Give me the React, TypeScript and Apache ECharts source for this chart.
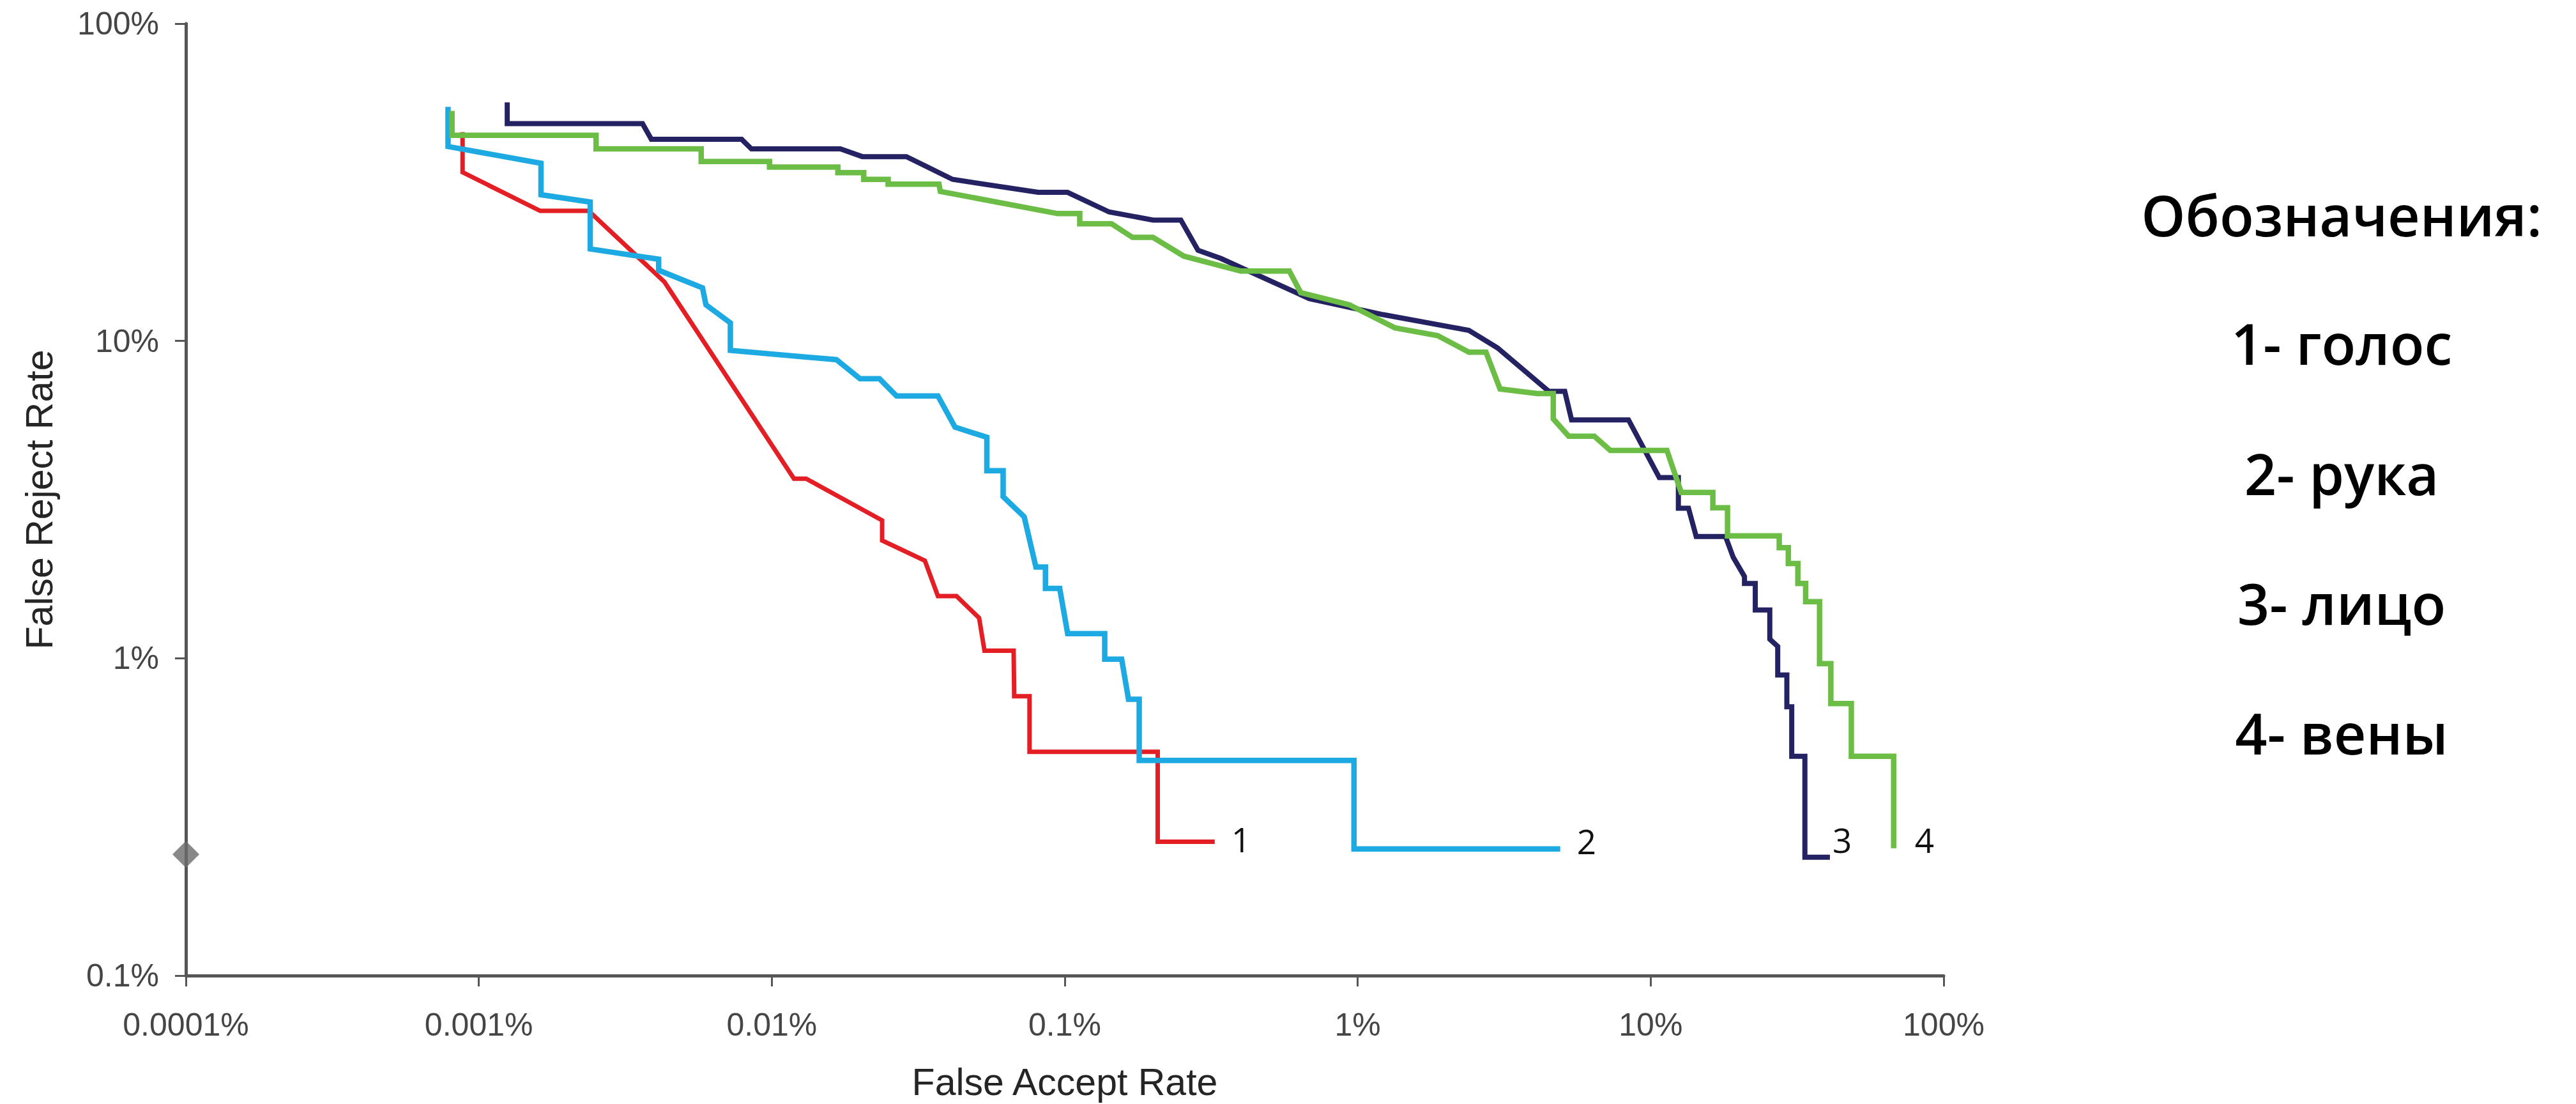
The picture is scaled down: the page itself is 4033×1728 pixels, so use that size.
import React, { useEffect, useRef } from 'react';
import * as echarts from 'echarts';

// Tick labels
const xTickLabels = ['0.0001%', '0.001%', '0.01%', '0.1%', '1%', '10%', '100%'];
const yTickLabels = ['0.1%', '1%', '10%', '100%'];

// Legend texts
const legendTitle = 'Обозначения:';
const legendItems = ['1- голос', '2- рука', '3- лицо', '4- вены'];
const curveLabels = ['1', '2', '3', '4'];

// [False Accept Rate %, False Reject Rate %]
const voice: number[][] = [
  [0.00088, 45.5], [0.00088, 34.0], [0.00162, 25.7], [0.00237, 25.7], [0.0043, 15.35],
  [0.0119, 3.68], [0.0131, 3.68], [0.0238, 2.72], [0.0238, 2.35], [0.0333, 2.03],
  [0.0369, 1.57], [0.0427, 1.57], [0.051, 1.34], [0.0532, 1.057], [0.0669, 1.057],
  [0.0672, 0.759], [0.0758, 0.759], [0.0758, 0.507], [0.2076, 0.507], [0.2076, 0.264],
  [0.325, 0.264],
];

const hand: number[][] = [
  [0.000785, 54.7], [0.000785, 41.0], [0.00163, 36.3], [0.00163, 28.9], [0.0024, 27.4],
  [0.0024, 19.5], [0.00411, 18.1], [0.00411, 16.7], [0.0058, 14.7], [0.00596, 13.0],
  [0.00722, 11.4], [0.00722, 9.34], [0.01662, 8.73], [0.02, 7.6], [0.0233, 7.6],
  [0.02665, 6.71], [0.0369, 6.71], [0.0422, 5.35], [0.0542, 4.97], [0.0542, 3.9],
  [0.0616, 3.9], [0.0616, 3.23], [0.0727, 2.79], [0.0797, 1.94], [0.0859, 1.94],
  [0.0859, 1.66], [0.0961, 1.66], [0.1023, 1.196], [0.1369, 1.196], [0.1369, 0.993],
  [0.1564, 0.993], [0.165, 0.743], [0.1795, 0.743], [0.1795, 0.4766], [0.971, 0.4766],
  [0.971, 0.2508], [4.91, 0.2508],
];

const face: number[][] = [
  [0.00125, 56.5], [0.00125, 48.4], [0.00362, 48.4], [0.00388, 43.2], [0.00789, 43.2],
  [0.00852, 40.3], [0.01714, 40.3], [0.02037, 38.1], [0.0288, 38.1], [0.0414, 32.3],
  [0.0811, 29.4], [0.1022, 29.4], [0.1417, 25.5], [0.2001, 24.05], [0.249, 24.05],
  [0.285, 19.3], [0.341, 18.2], [0.683, 13.6], [1.223, 12.1], [2.395, 10.8],
  [3.0, 9.51], [4.49, 6.94], [5.09, 6.94], [5.37, 5.64], [8.4, 5.64],
  [10.7, 3.71], [12.43, 3.71], [12.43, 2.97], [13.46, 2.97], [14.3, 2.42],
  [18.0, 2.42], [19.13, 2.08], [20.9, 1.81], [20.9, 1.72], [22.75, 1.72],
  [22.75, 1.42], [25.5, 1.42], [25.5, 1.148], [27.14, 1.09], [27.14, 0.886],
  [29.16, 0.886], [29.16, 0.703], [30.3, 0.703], [30.3, 0.491], [33.6, 0.491],
  [33.6, 0.236], [40.9, 0.236],
];

const veins: number[][] = [
  [0.00081, 53.1], [0.00081, 44.5], [0.002513, 44.5], [0.002513, 40.3], [0.00574, 40.3],
  [0.00574, 36.8], [0.00982, 36.8], [0.00982, 35.3], [0.01681, 35.3], [0.01681, 33.9],
  [0.0206, 33.9], [0.0206, 32.3], [0.02495, 32.3], [0.02495, 31.2], [0.0372, 31.2],
  [0.0376, 29.6], [0.0946, 25.2], [0.1125, 25.2], [0.1125, 23.4], [0.1444, 23.4],
  [0.1703, 21.2], [0.2001, 21.2], [0.255, 18.5], [0.399, 16.6], [0.584, 16.6],
  [0.639, 14.2], [0.935, 13.0], [1.339, 11.0], [1.873, 10.4], [2.395, 9.22],
  [2.74, 9.22], [3.06, 7.06], [4.1, 6.83], [4.65, 6.83], [4.65, 5.68],
  [5.25, 5.01], [6.42, 5.01], [7.28, 4.52], [11.36, 4.52], [12.71, 3.33],
  [16.3, 3.33], [16.3, 2.98], [18.29, 2.98], [18.29, 2.43], [27.46, 2.43],
  [27.46, 2.23], [29.5, 2.23], [29.5, 1.99], [31.8, 1.99], [31.8, 1.72],
  [33.8, 1.72], [33.8, 1.508], [37.7, 1.508], [37.7, 0.962], [41.2, 0.962],
  [41.2, 0.72], [48.4, 0.72], [48.4, 0.491], [67.5, 0.491], [67.5, 0.252],
];

const diamondPoint: number[][] = [[0.0001, 0.241]];

const AXIS_COLOR = '#565656';
const AXIS_FONT = '"Liberation Sans", Arial, sans-serif';

export default function App() {
  const ref = useRef<HTMLDivElement>(null);

  useEffect(() => {
    if (!ref.current) return;
    const chart = echarts.init(ref.current, null, { renderer: 'svg' });

    const lineSeries = (data: number[][], color: string, width: number, label: string, distance: number, offsetY: number) => ({
      type: 'line',
      data,
      symbol: 'none',
      showSymbol: false,
      silent: true,
      clip: false,
      lineStyle: { color, width, join: 'miter' },
      endLabel: {
        show: true,
        formatter: () => label,
        color: '#111',
        fontSize: 53,
        fontFamily: '"Open Sans", "Noto Sans", sans-serif',
        distance,
        offset: [0, offsetY],
      },
    });

    const legendCenterX = 3666;
    const legendYs = [537, 741, 944, 1147];

    chart.setOption({
      animation: false,
      backgroundColor: '#ffffff',
      grid: { left: 291, right: 990, top: 37, bottom: 200, containLabel: false },
      xAxis: {
        type: 'log',
        logBase: 10,
        min: 0.0001,
        max: 100,
        name: 'False Accept Rate',
        nameLocation: 'middle',
        nameGap: 137,
        nameTextStyle: { fontSize: 59, color: '#252525', fontFamily: AXIS_FONT },
        axisLine: { lineStyle: { color: AXIS_COLOR, width: 5 } },
        axisTick: { length: 17, lineStyle: { color: AXIS_COLOR, width: 3 } },
        axisLabel: {
          fontSize: 50,
          color: '#454545',
          fontFamily: AXIS_FONT,
          margin: 52,
          formatter: (v: number) => xTickLabels[Math.round(Math.log10(v)) + 4],
        },
        splitLine: { show: false },
      },
      yAxis: {
        type: 'log',
        logBase: 10,
        min: 0.1,
        max: 100,
        name: 'False Reject Rate',
        nameLocation: 'middle',
        nameGap: 200,
        nameTextStyle: { fontSize: 59, color: '#252525', fontFamily: AXIS_FONT },
        axisLine: { lineStyle: { color: AXIS_COLOR, width: 5 } },
        axisTick: { length: 17, lineStyle: { color: AXIS_COLOR, width: 3 } },
        axisLabel: {
          fontSize: 50,
          color: '#454545',
          fontFamily: AXIS_FONT,
          margin: 42,
          formatter: (v: number) => yTickLabels[Math.round(Math.log10(v)) + 1],
        },
        splitLine: { show: false },
      },
      series: [
        lineSeries(voice, '#E31E25', 7, curveLabels[0], 26, -4),
        lineSeries(hand, '#1DA9E2', 8.5, curveLabels[1], 26, -12),
        lineSeries(face, '#242262', 8, curveLabels[2], 4, -27),
        lineSeries(veins, '#6CBD46', 8.5, curveLabels[3], 33, -13),
        {
          type: 'scatter',
          data: diamondPoint,
          symbol: 'diamond',
          symbolSize: [42, 42],
          clip: false,
          silent: true,
          itemStyle: { color: '#6a6a6a' },
          z: 5,
        },
      ],
      graphic: [
        {
          type: 'text',
          x: legendCenterX,
          y: 336,
          style: {
            text: legendTitle,
            fontSize: 88,
            fontWeight: 600,
            fontFamily: '"Open Sans", "Noto Sans", sans-serif',
            fill: '#000',
            align: 'center',
            verticalAlign: 'middle',
          },
        },
        ...legendItems.map((t, i) => ({
          type: 'text',
          x: legendCenterX,
          y: legendYs[i],
          style: {
            text: t,
            fontSize: 88,
            fontWeight: 600,
            fontFamily: '"Open Sans", "Noto Sans", sans-serif',
            fill: '#000',
            align: 'center',
            verticalAlign: 'middle',
          },
        })),
      ],
    });

    return () => chart.dispose();
  }, []);

  return (
    <div
      ref={ref}
      style={{ position: 'fixed', left: 0, top: 0, width: 4033, height: 1728, background: '#fff' }}
    />
  );
}
